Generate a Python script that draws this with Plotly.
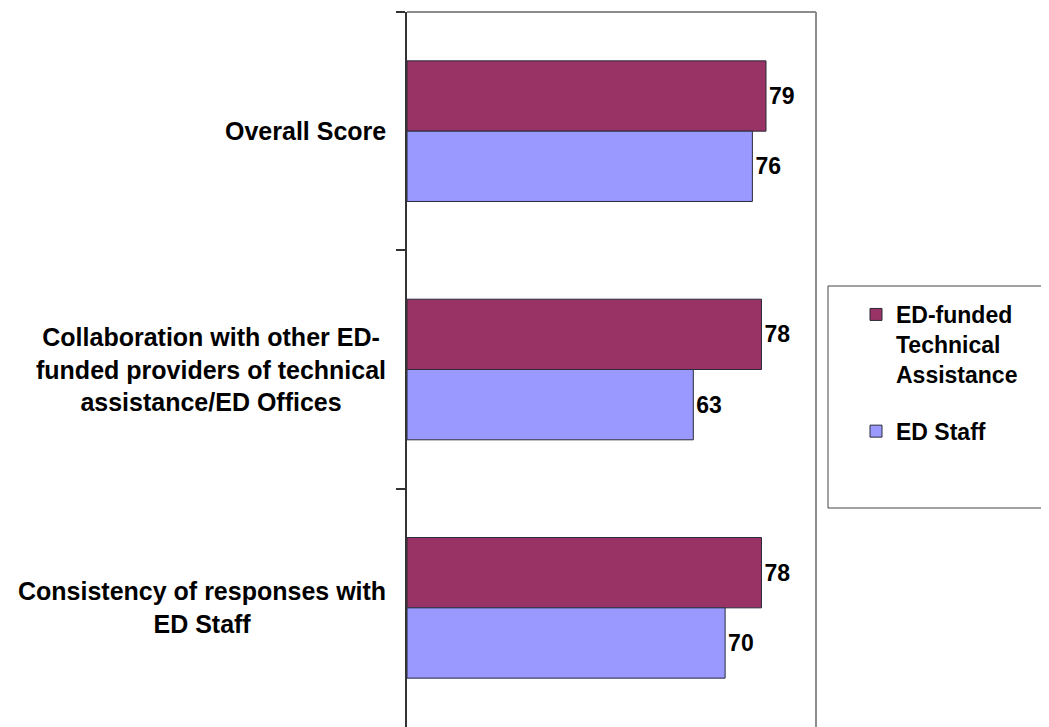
import plotly.graph_objects as go

categories = ["Overall Score",
              "Collaboration with other ED-<br>funded providers of technical<br>assistance/ED Offices",
              "Consistency of responses with<br>ED Staff"]
series_names = ["ED-funded<br>Technical<br>Assistance", "ED Staff"]
ta_values = [79, 78, 78]
staff_values = [76, 63, 70]
colors = ["#993366", "#9999FF"]

# page has an 8px body margin; work in page pixel coordinates
OFF = 8
W, H = 1049 - OFF, 727 - OFF
L, R, T, B = 407, 816, 12, 727          # plot area in page pixels
pw, ph = R - L, B - T

def px_x(px):
    return (px - L) / pw

def px_y(py):
    return 1 - (py - T) / ph

FONT = "Liberation Sans, Arial, sans-serif"
cat_ids = ["c0", "c1", "c2"]

fig = go.Figure()
for i, (name, vals) in enumerate(zip(series_names, [ta_values, staff_values])):
    fig.add_trace(go.Bar(
        y=cat_ids, x=vals, orientation="h", name="<b>" + name + "</b>",
        marker=dict(color=colors[i], line=dict(color="#2a2a3a", width=1)),
        text=[str(v) for v in vals], texttemplate="<b>%{text}</b>",
        textposition="outside", cliponaxis=False,
        textfont=dict(family=FONT, size=23, color="#000000"),
        legendgroup="g%d" % i, hoverinfo="skip",
    ))

for cid, label in zip(cat_ids, categories):
    fig.add_annotation(
        x=px_x(388), xref="paper", y=cid, yref="y",
        text="<b>" + label + "</b>", showarrow=False,
        xanchor="right", yanchor="middle", align="center",
        font=dict(family=FONT, size=25, color="#000000"),
    )

# plot-area border (top and right) and legend box
fig.add_shape(type="line", xref="paper", yref="paper", x0=0, x1=1, y0=1, y1=1,
              line=dict(color="#8c8c8c", width=2))
fig.add_shape(type="line", xref="paper", yref="paper", x0=1, x1=1, y0=0, y1=1,
              line=dict(color="#8c8c8c", width=2))
fig.add_shape(type="rect", xref="paper", yref="paper",
              x0=px_x(828), x1=px_x(1070), y0=px_y(508), y1=px_y(286),
              line=dict(color="#444444", width=1), fillcolor="rgba(0,0,0,0)")

fig.update_layout(
    width=W, height=H,
    margin=dict(l=L - OFF, r=(W + OFF) - R, t=T - OFF, b=(H + OFF) - B, pad=0),
    paper_bgcolor="white", plot_bgcolor="white",
    barmode="group", bargap=0.41, bargroupgap=0,
    showlegend=True,
    legend=dict(
        x=px_x(856), xanchor="left", y=px_y(293), yanchor="top",
        font=dict(family=FONT, size=23, color="#000000"),
        bgcolor="rgba(0,0,0,0)", borderwidth=0, valign="top",
        tracegroupgap=24, traceorder="grouped",
    ),
    xaxis=dict(range=[0, 90], visible=False, showgrid=False, zeroline=False),
    yaxis=dict(
        autorange="reversed", showgrid=False, zeroline=False,
        showline=True, linecolor="#333333", linewidth=2,
        ticks="outside", ticklen=9, tickcolor="#333333", tickwidth=2,
        tickson="boundaries", showticklabels=False,
        categoryorder="array", categoryarray=cat_ids,
    ),
)

fig.write_html("out.html")
